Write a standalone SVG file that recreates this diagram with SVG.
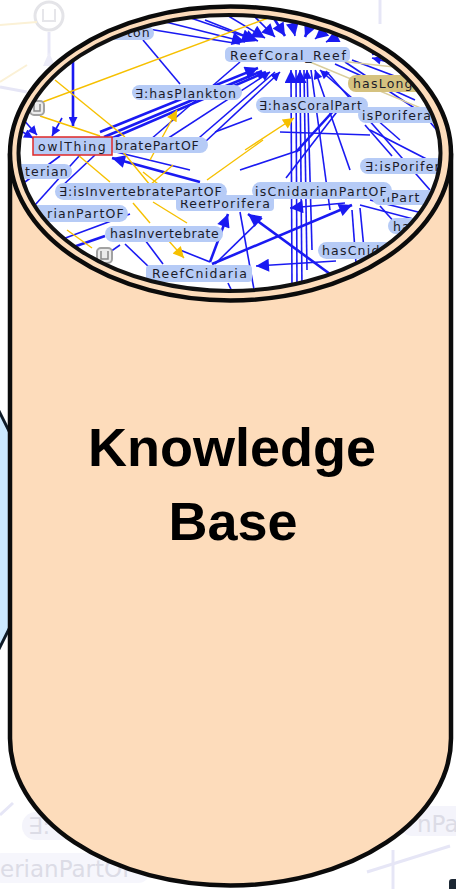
<svg xmlns="http://www.w3.org/2000/svg" width="456" height="889" viewBox="0 0 456 889">
  <style>
    .ghost-line { stroke: #e6e6f6; stroke-width: 3; fill: none; }
    .ghost-text { font-family: "DejaVu Sans", sans-serif; font-size: 23px; fill: #dcdce6; }
    .body { fill: #fddcbb; stroke: #0b0b0b; stroke-width: 4.5; }
    .title { font-family: "Liberation Sans", Arial, sans-serif; font-weight: bold; font-size: 54px; fill: #000; text-anchor: middle; }
    .e { stroke: #1a1af2; stroke-width: 1.6; fill: none; }
    .e2 { stroke: #1a1af2; stroke-width: 2.6; fill: none; }
    .y { stroke: #f6c000; stroke-width: 1.4; fill: none; }
    .t { stroke: #dacd9c; stroke-width: 1.4; fill: none; }
    .lbl rect { fill: #b6cbf6; }
    .lbl text { font-family: "DejaVu Sans", sans-serif; font-size: 12.5px; letter-spacing: 1.2px; fill: #1b1b2a; }
    .khaki rect { fill: #d5c27f; }
    .icon rect { fill: #ececec; stroke: #a2a2a2; stroke-width: 2; }
    .icon path { fill: none; stroke: #8a8a8a; stroke-width: 1.5; }
  </style>
  <defs>
    <marker id="ab" viewBox="0 0 10 10" refX="10" refY="5" markerWidth="11" markerHeight="9" markerUnits="userSpaceOnUse" orient="auto">
      <path d="M0,0 L10,5 L0,10 z" fill="#1a1af2"/>
    </marker>
    <marker id="abL" viewBox="0 0 10 10" refX="10" refY="5" markerWidth="15" markerHeight="13" markerUnits="userSpaceOnUse" orient="auto">
      <path d="M0,0 L10,5 L0,10 z" fill="#1a1af2"/>
    </marker>
    <marker id="ay" viewBox="0 0 10 10" refX="10" refY="5" markerWidth="13" markerHeight="11" markerUnits="userSpaceOnUse" orient="auto">
      <path d="M0,0 L10,5 L0,10 z" fill="#f6c000"/>
    </marker>
    <clipPath id="view">
      <ellipse cx="229.5" cy="153" rx="210" ry="137"/>
    </clipPath>
  </defs>

  <rect width="456" height="889" fill="#ffffff"/>

  <!-- faded graph behind everything -->
  <g id="backdrop">
    <circle cx="49" cy="16" r="14" fill="none" stroke="#e4e4e8" stroke-width="3"/>
    <path d="M43,9 V21 H55 V9" fill="none" stroke="#e6e6ea" stroke-width="2"/>
    <path class="ghost-line" d="M49,32 V55"/>
    <path d="M43,66 L49,52 L55,66 z" fill="#ececf8"/>
    <path d="M0,25 L37,22" stroke="#fbf1d6" stroke-width="2" fill="none"/>
    <path d="M0,82 L27,65" stroke="#fbf1d6" stroke-width="2" fill="none"/>
    <path class="ghost-line" d="M0,87 L27,92"/>
    <path class="ghost-line" d="M380,0 V24"/>
    <rect x="22" y="812" width="200" height="28" rx="14" fill="#f4f4fb"/>
    <text class="ghost-text" x="28" y="834">∃:</text>
    <rect x="400" y="806" width="70" height="30" rx="12" fill="#f4f4fb"/>
    <text class="ghost-text" x="417" y="832">nPa</text>
    <rect x="-10" y="853" width="160" height="30" rx="12" fill="#f6f6fc"/>
    <text class="ghost-text" x="0" y="877">erianPartOF</text>
    <path class="ghost-line" d="M0,815 L13,803"/>
    <path class="ghost-line" d="M367,872 L450,846"/>
    <path class="ghost-line" d="M393,850 V889"/>
  </g>

  <!-- neighbouring shapes at the edges -->
  <g id="side-shape">
    <path d="M-30,353 L15,443 L15,617 L-30,707 z" fill="#cce9ff" stroke="#0f1b27" stroke-width="3"/>
  </g>
  <g id="corner-shape">
    <rect x="449" y="879" width="24" height="24" rx="3" fill="#1c2733"/>
  </g>

  <!-- knowledge base cylinder -->
  <g id="knowledge-base">
    <path class="body" d="M10,153.5 L10,738.5 A220.5,147 0 0 0 451,738.5 L451,153.5"/>
    <ellipse class="body" cx="230.5" cy="153.5" rx="220.5" ry="147"/>
    <ellipse cx="229.5" cy="153" rx="211" ry="138" fill="#ffffff"/>

    <g id="ontology-view" clip-path="url(#view)">
      <g id="connectors">
        <!-- edges into ReefCoral_Reef from above -->
        <path class="e" d="M150,18 L245,42" marker-end="url(#abL)"/>
        <path class="e" d="M130,26 L240,44"/>
        <path class="e" d="M185,16 L255,40" marker-end="url(#abL)"/>
        <path class="e" d="M205,20 L258,41" marker-end="url(#abL)"/>
        <path class="e" d="M225,14 L265,38" marker-end="url(#abL)"/>
        <path class="e" d="M250,12 L275,37" marker-end="url(#abL)"/>
        <path class="e2" d="M270,12 L285,36" marker-end="url(#abL)"/>
        <path class="e" d="M290,12 L295,36" marker-end="url(#abL)"/>
        <path class="e2" d="M315,14 L305,37" marker-end="url(#abL)"/>
        <path class="e" d="M340,18 L315,39" marker-end="url(#abL)"/>
        <path class="e" d="M362,24 L326,42" marker-end="url(#abL)"/>
        <path class="e" d="M143,40 L180,84"/>
        <!-- edges into ReefCoral_Reef from the right -->
        <path class="e2" d="M445,45 L372,54" marker-end="url(#abL)"/>
        <path class="e" d="M430,30 L372,51"/>
        <path class="e" d="M440,75 L372,58" marker-end="url(#ab)"/>
        <path class="e" d="M345,62 L440,125"/>
        <path class="e" d="M335,64 L415,100"/>
        <path class="e" d="M352,60 L445,95"/>
        <path class="t" d="M310,62 L445,118"/>
        <path class="t" d="M330,60 L440,72"/>
        <!-- edges into ReefCoral_Reef from below -->
        <path class="e2" d="M100,132 L258,68" marker-end="url(#abL)"/>
        <path class="e2" d="M104,137 L262,71"/>
        <path class="e2" d="M108,140 L266,72" marker-end="url(#ab)"/>
        <path class="e" d="M150,150 L270,72" marker-end="url(#ab)"/>
        <path class="e" d="M185,150 L275,72"/>
        <path class="e" d="M205,142 L280,72" marker-end="url(#ab)"/>
        <path class="e" d="M292,290 L291,70" marker-end="url(#abL)"/>
        <path class="e" d="M297,290 L296,70"/>
        <path class="e" d="M302,290 L300,70" marker-end="url(#abL)"/>
        <path class="e" d="M307,270 L304,70"/>
        <path class="e" d="M312,250 L307,70" marker-end="url(#ab)"/>
        <path class="e" d="M330,210 L311,70"/>
        <path class="e" d="M350,170 L315,70" marker-end="url(#ab)"/>
        <path class="e" d="M400,140 L320,70" marker-end="url(#ab)"/>
        <path class="e" d="M430,190 L326,71"/>
        <path class="e2" d="M296,152 L336,108"/>
        <path class="e" d="M286,178 L346,100"/>
        <path class="e" d="M150,140 L240,62"/>
        <path class="e" d="M215,132 L252,118"/>
        <!-- edges around owlThing -->
        <path class="e2" d="M73,60 L73,126" marker-end="url(#ab)"/>
        <path class="e" d="M22,118 L37,135" marker-end="url(#ab)"/>
        <path class="e" d="M14,127 L33,138" marker-end="url(#ab)"/>
        <path class="e" d="M62,118 L52,136" marker-end="url(#ab)"/>
        <path class="e2" d="M200,182 L112,158" marker-end="url(#abL)"/>
        <path class="e" d="M190,170 L112,151"/>
        <path class="e" d="M80,155 L35,205"/>
        <path class="e" d="M60,156 L25,182"/>
        <path class="e" d="M95,155 L60,188"/>
        <path class="e" d="M60,240 L130,214"/>
        <path class="e" d="M90,266 L120,245"/>
        <path class="e2" d="M30,262 L105,236"/>
        <!-- edges around ReefPorifera and ReefCnidaria -->
        <path class="e2" d="M210,262 L228,214" marker-end="url(#abL)"/>
        <path class="e2" d="M330,274 L248,214" marker-end="url(#abL)"/>
        <path class="e2" d="M212,264 L352,205" marker-end="url(#abL)"/>
        <path class="e" d="M215,264 L262,218"/>
        <path class="e" d="M345,203 L290,208" marker-end="url(#abL)"/>
        <path class="e" d="M336,261 L256,266" marker-end="url(#abL)"/>
        <path class="e" d="M145,240 L163,264"/>
        <path class="e" d="M125,244 L150,268"/>
        <path class="e" d="M240,212 L255,295"/>
        <path class="e" d="M228,283 L236,300"/>
        <path class="e" d="M180,250 L210,262"/>
        <!-- edges on the right -->
        <path class="e" d="M360,205 L440,226"/>
        <path class="e" d="M370,200 L430,215"/>
        <path class="e" d="M352,210 L358,290"/>
        <path class="e" d="M360,208 L368,290"/>
        <path class="e" d="M380,206 L412,242"/>
        <path class="e" d="M370,130 L440,166"/>
        <path class="e" d="M365,125 L392,156"/>
        <path class="e" d="M420,110 L445,140"/>
        <path class="e" d="M280,132 L370,135"/>
        <path class="e" d="M240,170 L300,150"/>
        <!-- yellow edges -->
        <path class="y" d="M40,103 L268,18"/>
        <path class="y" d="M55,80 L125,137"/>
        <path class="y" d="M40,116 L100,136"/>
        <path class="y" d="M150,160 L177,110" marker-end="url(#ay)"/>
        <path class="y" d="M245,150 L294,118" marker-end="url(#ay)"/>
        <path class="y" d="M78,155 L110,182"/>
        <path class="y" d="M123,152 L150,185 L173,165"/>
        <path class="y" d="M143,172 L187,207"/>
        <path class="y" d="M207,180 L263,140"/>
        <path class="y" d="M133,203 L150,223"/>
        <path class="y" d="M67,230 L92,248"/>
        <path class="y" d="M153,202 L187,223"/>
        <path class="y" d="M168,240 L184,258" marker-end="url(#ay)"/>
      </g>

      <!-- small class icons -->
      <g id="icon-union-a" class="icon">
        <rect x="30" y="101" width="14" height="14" rx="4"/>
        <path d="M34,104 V111 H40 V104"/>
      </g>
      <g id="icon-union-b" class="icon">
        <rect x="97" y="248" width="15" height="15" rx="4"/>
        <path d="M101,251 V259 H108 V251"/>
      </g>

      <!-- labelled nodes -->
      <g id="n-ton" class="lbl"><rect x="100" y="26" width="54" height="14" rx="7"/><text x="151" y="36.5" text-anchor="end">ton</text></g>
      <g id="n-reefcoral" class="lbl"><rect x="225" y="47" width="125" height="15" rx="5"/><text x="230" y="59.5" textLength="117">ReefCoral_Reef</text></g>
      <g id="n-hasplankton" class="lbl"><rect x="132" y="85" width="110" height="15" rx="7.5"/><text x="135" y="97.5" textLength="102">∃:hasPlankton</text></g>
      <g id="n-haslong" class="lbl khaki"><rect x="348" y="75" width="90" height="17" rx="8"/><text x="353" y="88">hasLong</text></g>
      <g id="n-hascoralpart" class="lbl"><rect x="256" y="97" width="112" height="16" rx="8"/><text x="259" y="109.5" textLength="104">∃:hasCoralPart</text></g>
      <g id="n-isporiferal" class="lbl"><rect x="358" y="107" width="90" height="16" rx="8"/><text x="362" y="119.5">isPoriferal</text></g>
      <g id="n-bratepartof" class="lbl"><rect x="108" y="137" width="100" height="16" rx="8"/><text x="115" y="149.5" textLength="85">bratePartOF</text></g>
      <g id="n-owlthing" class="lbl"><rect x="33" y="137" width="79" height="18" fill="#b6cbf6" stroke="#e02828" stroke-width="1.5"/><text x="38" y="151" textLength="69">owlThing</text></g>
      <g id="n-terian" class="lbl"><rect x="8" y="164" width="64" height="15" rx="7.5"/><text x="69" y="175.5" text-anchor="end">terian</text></g>
      <g id="n-isporifer" class="lbl"><rect x="360" y="158" width="90" height="16" rx="8"/><text x="365" y="170.5">∃:isPorifer</text></g>
      <g id="n-reefporifera" class="lbl"><rect x="176" y="195" width="98" height="16" rx="4"/><text x="180" y="207.5" textLength="91">ReefPorifera</text></g>
      <g id="n-npar" class="lbl"><rect x="372" y="190" width="80" height="15" rx="7.5"/><text x="382" y="202">nPart</text></g>
      <g id="n-isinvertebratepartof" class="lbl"><rect x="55" y="183" width="172" height="17" rx="8.5"/><text x="59" y="196" textLength="164">∃:isInvertebratePartOF</text></g>
      <g id="n-iscnidarianpartof" class="lbl"><rect x="252" y="182" width="140" height="17" rx="8.5"/><text x="255" y="195.5" textLength="133">isCnidarianPartOF</text></g>
      <g id="n-rianpartof" class="lbl"><rect x="12" y="205" width="116" height="17" rx="8.5"/><text x="125" y="218" text-anchor="end">rianPartOF</text></g>
      <g id="n-hasinvertebrate" class="lbl"><rect x="105" y="226" width="118" height="16" rx="8"/><text x="110" y="238" textLength="110">hasInvertebrate</text></g>
      <g id="n-ha" class="lbl"><rect x="388" y="218" width="60" height="16" rx="8"/><text x="393" y="230.5">ha</text></g>
      <g id="n-hascnid" class="lbl"><rect x="318" y="242" width="90" height="17" rx="8.5"/><text x="322" y="254.5">hasCnid</text></g>
      <g id="n-reefcnidaria" class="lbl"><rect x="146" y="265" width="106" height="17" rx="4"/><text x="152" y="277.5" textLength="96">ReefCnidaria</text></g>
    </g>
    <ellipse cx="229.5" cy="153" rx="211" ry="138" fill="none" stroke="#111111" stroke-width="4"/>

    <text class="title" x="232" y="466">Knowledge</text>
    <text class="title" x="233" y="540">Base</text>
  </g>
</svg>
